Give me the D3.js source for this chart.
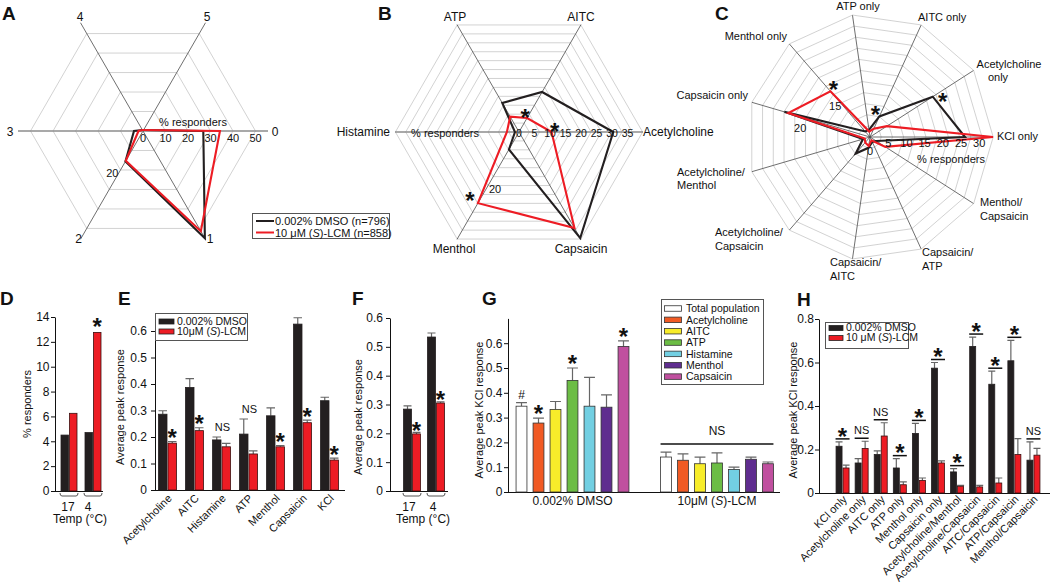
<!DOCTYPE html>
<html><head><meta charset="utf-8">
<script src="https://cdnjs.cloudflare.com/ajax/libs/d3/7.8.5/d3.min.js"></script>
<style>
body{margin:0;background:#fff;}
svg{font-family:"Liberation Sans",Arial,Helvetica,sans-serif;}
</style></head><body>
<svg id="c" width="1050" height="583"></svg>
<script>
// ================= DATA =================
// A: number of agonists responded to
const radarA_axes = ["0","1","2","3","4","5"];
const radarA_dmso = [26.8, 55, 15.6, 4, 0.5, 0.5];
const radarA_lcm  = [34.2, 51.4, 15.3, 2, 0.5, 0.5];
const radarA_ticks = [0,10,20,30,40,50];

// B: responders per agonist
const radarB_axes = ["Acetylcholine","AITC","ATP","Histamine","Menthol","Capsaicin"];
const radarB_dmso = [30.4, 14.9, 10.8, 1.3, 6.5, 39.5];
const radarB_lcm  = [10.5, 5.2, 5.7, 3.9, 26.5, 35.8];
const radarB_ticks = [0,5,10,15,20,25,30,35];

// C: response profiles
const radarC_axes = ["KCl only","Acetylcholine only","AITC only","ATP only","Menthol only","Capsaicin only",
  "Acetylcholine/Menthol","Acetylcholine/Capsaicin","Capsaicin/AITC","Capsaicin/ATP","Menthol/Capsaicin"];
const radarC_dmso = [26.1, 20.5, 6.2, 2, 2, 24.5, 2, 6, 3, 1.5, 2];
const radarC_lcm  = [33.8, 5.5, 2.5, 1.5, 16.6, 23.4, 1.5, 2, 2.5, 1, 5];
const radarC_ticks = [0,5,10,15,20,25,30];

// D: % responders to cold
const tempGroups = ["17","4"];
const coldResp_dmso = [4.5, 4.7];
const coldResp_lcm  = [6.25, 12.76];
const coldResp_sig  = ["", "*"];
const D_ticks = [0,2,4,6,8,10,12,14];

// E: average peak response per agonist
const peakCats = ["Acetylcholine","AITC","Histamine","ATP","Menthol","Capsaicin","KCl"];
const peak_dmso     = [0.286, 0.387, 0.189, 0.211, 0.28, 0.626, 0.337];
const peak_dmso_err = [0.013, 0.033, 0.011, 0.057, 0.03, 0.024, 0.013];
const peak_lcm      = [0.177, 0.224, 0.163, 0.136, 0.163, 0.254, 0.113];
const peak_lcm_err  = [0.006, 0.011, 0.013, 0.012, 0.005, 0.01, 0.007];
const peak_sig      = ["*","*","NS","NS","*","*","*"];
const E_ticks = [0,0.1,0.2,0.3,0.4,0.5,0.6];

// F: peak response to cold
const tempPeak_dmso     = [0.284, 0.534];
const tempPeak_dmso_err = [0.011, 0.014];
const tempPeak_lcm      = [0.198, 0.305];
const tempPeak_lcm_err  = [0.005, 0.004];
const tempPeak_sig      = ["*","*"];
const F_ticks = [0,0.1,0.2,0.3,0.4,0.5,0.6];

// G: average peak KCl response by responder class
const gGroups = ["0.002% DMSO","10μM (S)-LCM"];
const gCells  = ["Total population","Acetylcholine","AITC","ATP","Histamine","Menthol","Capsaicin"];
const gColors = ["#ffffff","#f15a24","#f7ec2a","#6cbd45","#72cfe2","#5f2d8f","#c0509f"];
const kcl_dmso     = [0.346, 0.278, 0.333, 0.45, 0.346, 0.342, 0.587];
const kcl_dmso_err = [0.014, 0.02, 0.032, 0.05, 0.116, 0.05, 0.022];
const kcl_lcm      = [0.141, 0.128, 0.114, 0.117, 0.091, 0.132, 0.114];
const kcl_lcm_err  = [0.02, 0.026, 0.027, 0.041, 0.009, 0.009, 0.007];
const kcl_dmso_sig = ["#","*","","*","","","*"];
const kcl_lcm_sig  = "NS";
const G_ticks = [0,0.1,0.2,0.3,0.4,0.5,0.6];

// H: average peak KCl response by response profile
const hCats = ["KCl only","Acetylcholine only","AITC only","ATP only","Menthol only","Capsaicin only",
  "Acetylcholine/Menthol","Acetylcholine/Capsaicin","AITC/Capsaicin","ATP/Capsaicin","Menthol/Capsaicin"];
const prof_dmso     = [0.215, 0.138, 0.177, 0.115, 0.274, 0.574, 0.097, 0.674, 0.5, 0.608, 0.151];
const prof_dmso_err = [0.02, 0.02, 0.017, 0.043, 0.046, 0.026, 0.015, 0.043, 0.06, 0.094, 0.084];
const prof_lcm      = [0.115, 0.205, 0.262, 0.038, 0.058, 0.138, 0.031, 0.028, 0.046, 0.177, 0.174];
const prof_lcm_err  = [0.013, 0.033, 0.061, 0.013, 0.011, 0.01, 0.004, 0.007, 0.023, 0.073, 0.031];
const prof_sig      = ["*","NS","NS","*","*","*","*","*","*","*","NS"];
const H_ticks = [0,0.2,0.4,0.6,0.8];

// ================= DRAWING =================
const svg = d3.select("#c");
const BLACK = "#231f20", RED = "#ed1c24", INK = "#111";

function txt(g, x, y, s, o = {}) {
  return g.append("text").attr("x", x).attr("y", y).text(s)
    .attr("font-size", o.size || 11).attr("text-anchor", o.anchor || "start")
    .attr("font-weight", o.weight || null).attr("fill", INK);
}
function lcmTxt(g, x, y, prefix, suffix, o = {}) {
  const t = g.append("text").attr("x", x).attr("y", y)
    .attr("font-size", o.size || 11).attr("text-anchor", o.anchor || "start").attr("fill", INK);
  t.append("tspan").text(prefix + "(");
  t.append("tspan").attr("font-style", "italic").text("S");
  t.append("tspan").text(")-LCM" + (suffix || ""));
  return t;
}
function star(g, x, cy, size = 24) {
  g.append("text").attr("x", x).attr("y", cy + size * 0.57).attr("text-anchor", "middle")
    .attr("font-size", size).attr("font-weight", "bold").attr("fill", INK).text("*");
}
function panelLetter(x, y, s) { txt(svg, x, y, s, {size: 19, weight: "bold"}); }

// ---------- radar ----------
function radar(o) {
  const g = svg.append("g");
  const n = o.axes.length;
  const ang = i => o.dir * i * 2 * Math.PI / n;
  const r = d3.scaleLinear().domain([0, 1]).range([0, o.pxPerUnit]);
  const P = (i, rad) => [o.cx + rad * Math.cos(ang(i)), o.cy - rad * Math.sin(ang(i))];
  const rings = d3.range(1, o.rings + 1).map(k => k * o.ringStep);
  g.selectAll(null).data(rings).join("path")
    .attr("d", rr => d3.line()(d3.range(n).map(i => P(i, rr))) + "Z")
    .attr("fill", "none").attr("stroke", "#cdcdcd").attr("stroke-width", 0.9);
  g.selectAll(null).data(o.axes).join("line")
    .attr("x1", o.cx).attr("y1", o.cy)
    .attr("x2", (d, i) => P(i, o.axisLen)[0]).attr("y2", (d, i) => P(i, o.axisLen)[1])
    .attr("stroke", (d, i) => (o.grayHoriz && Math.abs(Math.sin(ang(i))) < 1e-6) ? "#8c8c8c" : "#4a4a4a")
    .attr("stroke-width", (d, i) => (o.grayHoriz && Math.abs(Math.sin(ang(i))) < 1e-6) ? 1.5 : 0.8);
  const line = d3.line().curve(d3.curveLinearClosed);
  o.series.forEach(s => {
    g.append("path").attr("d", line(s.values.map((v, i) => P(i, r(v)))))
      .attr("fill", "none").attr("stroke", s.color).attr("stroke-width", 2.1)
      .attr("stroke-linejoin", "miter").attr("stroke-miterlimit", 10);
  });
  g.selectAll(null).data(o.ticks).join("text")
    .attr("x", v => o.cx + r(v) + (o.tickDx || 0))
    .attr("y", v => o.cy + (v === 0 && o.zeroDy ? o.zeroDy : o.tickDy))
    .attr("text-anchor", "middle").attr("font-size", o.tickSize || 11).attr("fill", INK).text(v => v);
  return {g, P, r};
}

// ---------- Panel A ----------
{
  const R = radar({cx: 143, cy: 131, axes: radarA_axes, dir: -1, pxPerUnit: 2.25,
    ringStep: 22.5, rings: 5, axisLen: 125, grayHoriz: true,
    series: [{values: radarA_dmso, color: BLACK}, {values: radarA_lcm, color: RED}],
    ticks: radarA_ticks, tickDy: 11});
  const lab = [[275,135.5,"middle"],[210,243,"middle"],[78.5,243,"middle"],[10,135.5,"middle"],[80,21,"middle"],[207,21,"middle"]];
  radarA_axes.forEach((a, i) => txt(R.g, lab[i][0], lab[i][1], a, {size: 12, anchor: lab[i][2]}));
  txt(R.g, 193, 126, "% responders", {anchor: "middle"});
  const p20 = R.P(2, R.r(20));
  txt(R.g, p20[0] - 2, p20[1] + 7, "20", {anchor: "end"});
  const L = svg.append("g");
  L.append("rect").attr("x", 252.5).attr("y", 213.5).attr("width", 137).attr("height", 25)
    .attr("fill", "#fff").attr("stroke", "#555").attr("stroke-width", 1);
  L.append("line").attr("x1", 256).attr("x2", 274).attr("y1", 221).attr("y2", 221).attr("stroke", BLACK).attr("stroke-width", 2);
  L.append("line").attr("x1", 256).attr("x2", 274).attr("y1", 232.5).attr("y2", 232.5).attr("stroke", RED).attr("stroke-width", 2);
  txt(L, 275, 225, "0.002% DMSO (n=796)");
  lcmTxt(L, 275, 236.5, "10 μM ", " (n=858)");
}
panelLetter(2, 20, "A");

// ---------- Panel B ----------
{
  const R = radar({cx: 519, cy: 132, axes: radarB_axes, dir: 1, pxPerUnit: 3.1,
    ringStep: 10.3, rings: 12, axisLen: 124, grayHoriz: true,
    series: [{values: radarB_dmso, color: BLACK}, {values: radarB_lcm, color: RED}],
    ticks: radarB_ticks, tickDy: 5, tickSize: 10.5});
  const lab = [[643,136,"start"],[581,21,"middle"],[455,21,"middle"],[390,136,"end"],[454,253,"middle"],[581,253,"middle"]];
  radarB_axes.forEach((a, i) => txt(R.g, lab[i][0], lab[i][1], a, {size: 12, anchor: lab[i][2]}));
  txt(R.g, 445, 137, "% responders", {anchor: "middle"});
  const p20 = R.P(4, R.r(20));
  txt(R.g, p20[0] + 7, p20[1] + 7, "20", {anchor: "middle"});
  let p = R.P(1, R.r(radarB_lcm[1])); star(R.g, p[0] - 2, p[1] - 6);
  p = R.P(0, R.r(radarB_lcm[0])); star(R.g, p[0] + 3, p[1] - 6);
  p = R.P(4, R.r(radarB_lcm[4])); star(R.g, p[0] - 8, p[1] - 8);
}
panelLetter(378, 20, "B");

// ---------- Panel C ----------
{
  const R = radar({cx: 870, cy: 137, axes: radarC_axes, dir: 1, pxPerUnit: 3.64,
    ringStep: 11.2, rings: 11, axisLen: 123, grayHoriz: false,
    series: [{values: radarC_dmso, color: BLACK}, {values: radarC_lcm, color: RED}],
    ticks: radarC_ticks, tickDy: 10, zeroDy: 18});
  const lab = [
    [[997,140,"start","KCl only"]],
    [[1009,68,"middle","Acetylcholine"],[998,81,"middle","only"]],
    [[918,21,"start","AITC only"]],
    [[858,9.5,"middle","ATP only"]],
    [[787,40,"end","Menthol only"]],
    [[748,99,"end","Capsaicin only"]],
    [[677,176,"start","Acetylcholine/"],[677,189,"start","Menthol"]],
    [[715,236,"start","Acetylcholine/"],[715,250,"start","Capsaicin"]],
    [[830,266,"start","Capsaicin/"],[830,280,"start","AITC"]],
    [[922,256,"start","Capsaicin/"],[922,270,"start","ATP"]],
    [[980,206,"start","Menthol/"],[980,220,"start","Capsaicin"]]
  ];
  lab.forEach(ls => ls.forEach(l => txt(R.g, l[0], l[1], l[3], {size: 11, anchor: l[2]})));
  txt(R.g, 951, 163, "% responders", {anchor: "middle"});
  let p = R.P(4, R.r(15)); txt(R.g, p[0] + 1, p[1] + 14, "15", {anchor: "middle"});
  p = R.P(5, R.r(20)); txt(R.g, p[0], p[1] + 15.5, "20", {anchor: "middle"});
  p = R.P(4, R.r(radarC_lcm[4])); star(R.g, p[0] + 3, p[1] - 7);
  p = R.P(2, R.r(radarC_dmso[2])); star(R.g, p[0] - 4, p[1] - 7);
  p = R.P(1, R.r(radarC_dmso[1])); star(R.g, p[0] + 10, p[1]);
}
panelLetter(715, 20, "C");

// ---------- bar helpers ----------
function barAxes(g, o) {
  const ax = g.append("g").attr("transform", `translate(${o.x},0)`)
    .call(d3.axisLeft(o.y).tickValues(o.ticks).tickFormat(o.fmt).tickSize(4).tickPadding(o.pad).tickSizeOuter(0));
  ax.attr("font-size", 12).attr("font-family", null);
  ax.selectAll("text").attr("fill", INK);
  ax.select(".domain").attr("stroke", INK);
  ax.selectAll(".tick line").attr("stroke", INK);
  g.append("line").attr("x1", o.x).attr("x2", o.xEnd).attr("y1", o.y(0) + 0.5).attr("y2", o.y(0) + 0.5)
    .attr("stroke", INK).attr("stroke-width", 1);
  if (o.label) {
    g.append("text").attr("transform", `translate(${o.labelX},${o.labelY}) rotate(-90)`)
      .attr("dy", "0.35em").attr("text-anchor", "middle").attr("font-size", 11).attr("fill", INK).text(o.label);
  }
}
function bars(g, cats, cx, y, vals, errs, fill, off, w, stroke, capW) {
  if (errs) {
    g.selectAll(null).data(cats).join("path")
      .attr("d", (d, i) => {
        const xc = cx(d) + off + w / 2, y1 = y(vals[i]), y2 = y(vals[i] + errs[i]);
        const hw = (capW || w) / 2;
        return `M${xc},${y1}V${y2}M${xc - hw},${y2}H${xc + hw}`;
      })
      .attr("stroke", "#666").attr("stroke-width", 1.2).attr("fill", "none");
  }
  g.selectAll(null).data(cats).join("rect")
    .attr("x", d => cx(d) + off).attr("width", w)
    .attr("y", (d, i) => y(vals[i])).attr("height", (d, i) => y(0) - y(vals[i]))
    .attr("fill", (d, i) => typeof fill === "function" ? fill(d, i) : fill)
    .attr("stroke", stroke).attr("stroke-width", 0.8);
}
function bracket(g, c, y0) {
  g.append("path").attr("d", `M${c - 9},${y0 + 2}Q${c - 9},${y0 + 5} ${c - 7},${y0 + 5}H${c + 7}Q${c + 9},${y0 + 5} ${c + 9},${y0 + 2}`)
    .attr("fill", "none").attr("stroke", "#555").attr("stroke-width", 1);
}
function legend2(g, x, y, w, h, rows, sw) {
  g.append("rect").attr("x", x).attr("y", y).attr("width", w).attr("height", h)
    .attr("fill", "#fff").attr("stroke", "#555").attr("stroke-width", 1);
  rows.forEach(r => {
    g.append("rect").attr("x", x + 3.5).attr("y", r.y - 5.5).attr("width", sw).attr("height", 5)
      .attr("fill", r.fill).attr("stroke", "#222").attr("stroke-width", 0.8);
    r.draw(x + sw + 6.5, r.y);
  });
}

// ---------- Panel D ----------
{
  const g = svg.append("g");
  const y = d3.scaleLinear().domain([0, 14]).range([491, 317]);
  barAxes(g, {x: 55, y, ticks: D_ticks, fmt: d3.format("d"), xEnd: 103, pad: 1.5, label: "% responders", labelX: 27, labelY: 404});
  const x = d3.scaleBand().domain(tempGroups).range([57, 105]);
  const cx = d => x(d) + x.bandwidth() / 2;
  bars(g, tempGroups, cx, y, coldResp_dmso, null, BLACK, -8, 7.5, BLACK);
  bars(g, tempGroups, cx, y, coldResp_lcm, null, RED, 0.5, 7.5, "#3a1010");
  tempGroups.forEach((t, i) => {
    bracket(g, cx(t), 491);
    txt(g, cx(t) - 1 - (i ? 4 : 0), 511, t, {size: 12, anchor: "middle"});
    if (coldResp_sig[i]) star(g, cx(t) + 4.25, y(coldResp_lcm[i]) - 11);
  });
  txt(g, 80, 523, "Temp (°C)", {size: 12, anchor: "middle"});
}
panelLetter(0, 305, "D");

// ---------- Panel E ----------
{
  const g = svg.append("g");
  const y = d3.scaleLinear().domain([0, 0.65]).range([490, 317.75]);
  barAxes(g, {x: 155, y, ticks: E_ticks, fmt: d => d === 0 ? "0" : d3.format(".1f")(d), xEnd: 345, pad: 4,
    label: "Average peak response", labelX: 120, labelY: 407});
  const x = d3.scaleBand().domain(peakCats).range([154, 343]);
  const cx = d => x(d) + x.bandwidth() / 2;
  bars(g, peakCats, cx, y, peak_dmso, peak_dmso_err, BLACK, -9, 8.5, BLACK);
  bars(g, peakCats, cx, y, peak_lcm, peak_lcm_err, RED, 0.5, 8.5, "#3a1010");
  peakCats.forEach((c, i) => {
    if (peak_sig[i] === "*") star(g, cx(c) + 4.75, y(peak_lcm[i] + peak_lcm_err[i]) - 9);
    else if (peak_sig[i] === "NS") {
      const top = Math.max(peak_dmso[i] + peak_dmso_err[i], peak_lcm[i] + peak_lcm_err[i]);
      txt(g, cx(c) + 1, y(top) - 6, "NS", {size: 11, anchor: "middle"});
    }
    g.append("text").attr("transform", `translate(${cx(c) + 5},${499}) rotate(-45)`)
      .attr("text-anchor", "end").attr("font-size", 11).attr("fill", INK).text(c);
  });
  const L = svg.append("g");
  legend2(L, 155.5, 313.5, 92, 27, [
    {y: 324.5, fill: BLACK, draw: (x, yy) => txt(L, x, yy, "0.002% DMSO", {size: 10.5})},
    {y: 334.5, fill: RED, draw: (x, yy) => lcmTxt(L, x, yy, "10μM ", "", {size: 10.5})}
  ], 15);
}
panelLetter(118, 305, "E");

// ---------- Panel F ----------
{
  const g = svg.append("g");
  const y = d3.scaleLinear().domain([0, 0.6]).range([491, 318]);
  barAxes(g, {x: 390, y, ticks: F_ticks, fmt: d => d === 0 ? "0" : d3.format(".1f")(d), xEnd: 448, pad: 3,
    label: "Average peak response", labelX: 358, labelY: 417});
  const x = d3.scaleBand().domain(tempGroups).range([400, 448]);
  const cx = d => x(d) + x.bandwidth() / 2;
  bars(g, tempGroups, cx, y, tempPeak_dmso, tempPeak_dmso_err, BLACK, -8.5, 8, BLACK);
  bars(g, tempGroups, cx, y, tempPeak_lcm, tempPeak_lcm_err, RED, 0.5, 8, "#3a1010");
  tempGroups.forEach((t, i) => {
    bracket(g, cx(t), 491);
    txt(g, cx(t) - 3, 511, t, {size: 12, anchor: "middle"});
    if (tempPeak_sig[i]) star(g, cx(t) + 4.5, y(tempPeak_lcm[i] + tempPeak_lcm_err[i]) - 7.5);
  });
  txt(g, 423, 523, "Temp (°C)", {size: 12, anchor: "middle"});
}
panelLetter(352, 305, "F");

// ---------- Panel G ----------
{
  const g = svg.append("g");
  const y = d3.scaleLinear().domain([0, 0.7]).range([492, 318.4]);
  barAxes(g, {x: 508, y, ticks: G_ticks, fmt: d => d === 0 ? "0" : d3.format(".1f")(d), xEnd: 780, pad: 1.5,
    label: "Average peak KCl response", labelX: 479, labelY: 410});
  const gx = d3.scalePoint().domain(gGroups).range([572.5, 717]);
  const inner = d3.scaleBand().domain(gCells).range([-59.5, 59.5]).paddingInner(0.36).paddingOuter(0.18);
  const fillOf = (d, i) => gColors[i];
  const groupData = [[kcl_dmso, kcl_dmso_err], [kcl_lcm, kcl_lcm_err]];
  gGroups.forEach((grp, gi) => {
    const cx = d => gx(grp) + inner(d) + inner.bandwidth() / 2;
    bars(g, gCells, cx, y, groupData[gi][0], groupData[gi][1], fillOf, -inner.bandwidth() / 2, inner.bandwidth(), "#333");
  });
  txt(g, gx(gGroups[0]), 505, gGroups[0], {size: 12, anchor: "middle"});
  lcmTxt(g, gx(gGroups[1]), 505, "10μM ", "", {size: 12, anchor: "middle"});
  gCells.forEach((c, i) => {
    const xc = gx(gGroups[0]) + inner(c) + inner.bandwidth() / 2;
    const top = y(kcl_dmso[i] + kcl_dmso_err[i]);
    if (kcl_dmso_sig[i] === "*") star(g, xc, top - 10);
    else if (kcl_dmso_sig[i] === "#") txt(g, xc, top - 4, "#", {size: 12, anchor: "middle"});
  });
  const maxL = d3.max(kcl_lcm.map((v, i) => v + kcl_lcm_err[i]));
  const ly = y(maxL) - 8;
  const x1 = gx(gGroups[1]) + inner(gCells[0]), x2 = gx(gGroups[1]) + inner(gCells[gCells.length - 1]) + inner.bandwidth();
  g.append("line").attr("x1", x1).attr("x2", x2).attr("y1", ly).attr("y2", ly).attr("stroke", INK).attr("stroke-width", 1.5);
  txt(g, (x1 + x2) / 2, ly - 9, kcl_lcm_sig, {size: 12, anchor: "middle"});
  const L = svg.append("g");
  L.append("rect").attr("x", 661.5).attr("y", 299.5).attr("width", 102).attr("height", 85)
    .attr("fill", "#fff").attr("stroke", "#555").attr("stroke-width", 1);
  gCells.forEach((c, i) => {
    const cy = 308.5 + i * 11.35;
    L.append("rect").attr("x", 664.5).attr("y", cy - 2.75).attr("width", 17).attr("height", 5.5)
      .attr("fill", gColors[i]).attr("stroke", "#333").attr("stroke-width", 0.8);
    txt(L, 686, cy + 3.8, c, {size: 10.5});
  });
}
panelLetter(482, 305, "G");

// ---------- Panel H ----------
{
  const g = svg.append("g");
  const y = d3.scaleLinear().domain([0, 0.8]).range([493, 319]);
  barAxes(g, {x: 819, y, ticks: H_ticks, fmt: d => d === 0 ? "0" : d3.format(".1f")(d), xEnd: 1050, pad: 1,
    label: "Average peak KCl response", labelX: 793, labelY: 410});
  const x = d3.scaleBand().domain(hCats).range([833, 1043]);
  const cx = d => x(d) + x.bandwidth() / 2;
  bars(g, hCats, cx, y, prof_dmso, prof_dmso_err, BLACK, -6.5, 6, BLACK, 7);
  bars(g, hCats, cx, y, prof_lcm, prof_lcm_err, RED, 0.5, 6, "#3a1010", 7);
  hCats.forEach((c, i) => {
    const top = Math.max(prof_dmso[i] + prof_dmso_err[i], prof_lcm[i] + prof_lcm_err[i]);
    const ly = y(top) - 3;
    g.append("line").attr("x1", cx(c) - 7).attr("x2", cx(c) + 7).attr("y1", ly).attr("y2", ly)
      .attr("stroke", INK).attr("stroke-width", 1.5);
    if (prof_sig[i] === "*") star(g, cx(c), ly - 8);
    else txt(g, cx(c), ly - 4, prof_sig[i], {size: 11, anchor: "middle"});
    g.append("text").attr("transform", `translate(${cx(c) + 5},${500}) rotate(-45)`)
      .attr("text-anchor", "end").attr("font-size", 11).attr("fill", INK).text(c);
  });
  const L = svg.append("g");
  legend2(L, 825.5, 322.5, 83, 26, [
    {y: 331, fill: BLACK, draw: (x, yy) => txt(L, x, yy, "0.002% DMSO", {size: 10.5})},
    {y: 341, fill: RED, draw: (x, yy) => lcmTxt(L, x, yy, "10 μM ", "", {size: 10.5})}
  ], 14);
}
panelLetter(797, 306, "H");
</script>
</body></html>
